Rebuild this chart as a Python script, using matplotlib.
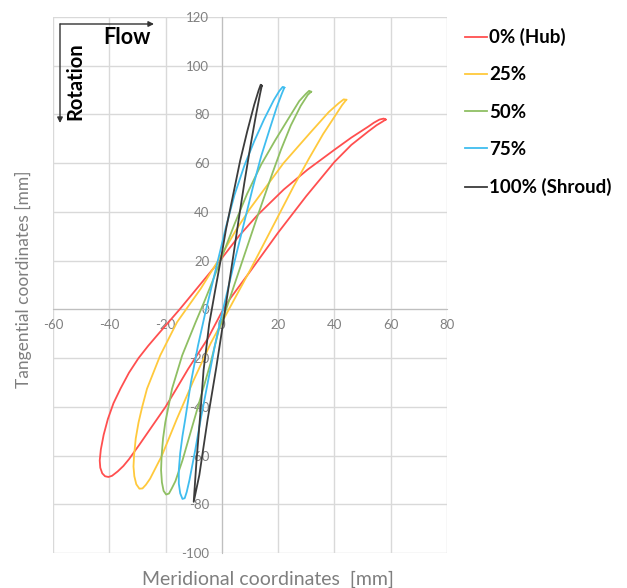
import matplotlib
matplotlib.use("Agg")
import matplotlib.pyplot as plt

# blade profiles at 5 span positions
# each list goes tip -> upper side -> leading edge -> lower side -> tip
hub_x = [58.2, 57.5, 56, 54, 52, 46, 40, 30.4, 22, 12.5, 6, 0, -7.5, -15, -22.5, -26.2, -29.6, -33, -36, -38.5, -40.5,
         -42, -43, -43.4, -43.2, -42.5, -41.5, -40.3, -39, -37, -35, -33, -29.4, -24.5, -20, -16, -12, -5, 0, 3, 10,
         20, 30, 40, 46, 52, 55, 57, 58.2]
hub_y = [77.9, 78.3, 77.9, 76.6, 75, 70.5, 65.5, 57.3, 49.2, 38.5, 30, 21, 10.5, 0, -10, -15, -20, -26, -32.5, -38.5,
         -45, -51.5, -57.5, -62, -65, -67.3, -68.5, -68.8, -68.3, -66.5, -64.3, -61.5, -55.7, -47.5, -40, -32.3,
         -24.5, -12, -1, 4.5, 15.5, 31.5, 46.5, 60.5, 67.5, 73, 75.6, 77, 77.9]

s25_x = [44.2, 43.3, 41.5, 38, 31.4, 21.9, 10.1, 5, 0, -7.5, -15.9, -21.9, -26.6, -28.3, -29.6, -30.6, -31.2, -31.4,
         -31.1, -30.4, -29.3, -28.2, -27, -25.5, -21.3, -16, -10, -4, 2.5, 10, 19, 25.5, 31, 36, 40, 42.7, 44.2]
s25_y = [86.0, 86.2, 84.6, 81, 72.5, 60, 41.5, 32.5, 22.5, 8.5, -5.2, -18.9, -32.6, -40, -46.4, -53, -60, -64.5,
         -68.5, -71.8, -73.6, -73.5, -72, -69.5, -60, -45, -29, -14, 0, 16, 36, 50.5, 62, 72, 79, 83.8, 86.0]

s50_x = [31.7, 31, 29.8, 27.5, 23.5, 19, 14, 9, 4.5, 0, -3.5, -6.3, -9.3, -14.1, -17.7, -20.1, -20.9, -21.4, -21.6,
         -21.3, -20.7, -19.8, -18.8, -17.8, -16.5, -14, -11, -7.5, -4, -1, 1.5, 5, 8.5, 12, 15, 18, 21, 24.5, 28,
         30.5, 31.7]
s50_y = [89.3, 89.7, 88.4, 85.5, 78, 69.5, 59.5, 47.5, 35, 21.5, 11, 3, -5.2, -18.9, -32.6, -46.4, -53, -60, -66,
         -71, -74.5, -76, -75.6, -73.5, -70.5, -62, -50, -36, -22, -8, 0, 12, 24, 36, 46, 56, 65.5, 75.5, 83.5,
         88, 89.3]

s75_x = [22.2, 21.6, 20.4, 18.5, 15, 11.5, 8, 4.5, 1.5, -1, -3.5, -6, -8.5, -11, -13, -14, -14.8, -15.3, -15.3,
         -14.8, -14, -13.2, -12.5, -11.5, -9.5, -7.5, -5, -2.5, 0, 2.5, 5, 8, 11, 14, 17, 19.5, 21.3, 22.2]
s75_y = [91, 91.3, 89.6, 86, 78, 69, 59, 47, 34, 22, 10, -2, -15, -30, -45, -52, -59, -66, -71.5,
         -75.5, -77.8, -77.5, -75, -70, -58, -45, -30, -15, -2, 10, 22, 36, 50, 63, 74, 83, 88.5, 91]

shroud_x = [14.2, 13.8, 13.1, 11.5, 9, 6.5, 4, 1.5, -0.3, -2.5, -4.5, -6.5, -7.8, -9, -10,
            -8, -5.1, -2, 0.6, 2.5, 4.2, 6, 8, 10, 12, 13.5, 14.2]
shroud_y = [91.8, 92.2, 90, 84, 73, 61, 47, 33, 21, 7, -6, -25, -45, -62, -79,
            -68, -45.5, -24, -4.5, 10, 23, 37, 52, 66, 79, 88, 91.8]

labels = ["0% (Hub)", "25%", "50%", "75%", "100% (Shroud)"]
colors = ["#ff4f4f", "#ffc93c", "#8fbf63", "#3fbdef", "#3c3c3c"]

plt.rcParams['font.family'] = ['Lato', 'DejaVu Sans']
plt.rcParams['axes.unicode_minus'] = False

W, H = 627, 588
fig = plt.figure(figsize=(W/100, H/100), dpi=100)
ax = fig.add_axes([53/W, 1-553/H, (447-53)/W, (553-17)/H])

series = [(hub_x, hub_y), (s25_x, s25_y), (s50_x, s50_y), (s75_x, s75_y), (shroud_x, shroud_y)]
for (xs, ys), lab, c in zip(series, labels, colors):
    ax.plot(xs, ys, color=c, lw=1.3, label=lab, zorder=3, solid_joinstyle='round')

ax.set_xlim(-60, 80)
ax.set_ylim(-100, 120)
ax.set_xticks(range(-60, 81, 20))
ax.set_yticks(range(-100, 121, 20))
ax.grid(True, color='#d9d9d9', lw=1)
ax.set_axisbelow(True)
for s in ['top', 'right']:
    ax.spines[s].set_visible(False)
ax.spines['left'].set_position(('data', 0))
ax.spines['bottom'].set_position(('data', 0))
for s in ['left', 'bottom']:
    ax.spines[s].set_color('#bfbfbf')
    ax.spines[s].set_zorder(1)
ax.tick_params(axis='both', length=0, labelsize=9.5, labelcolor='#808080')
ax.tick_params(axis='x', pad=7)
ax.tick_params(axis='y', pad=9)

# axis titles
fig.text(268/W, 1-579/H, 'Meridional coordinates  [mm]', ha='center', va='center',
         fontsize=14, color='#7f7f7f')
fig.text(23/W, 1-279/H, 'Tangential coordinates [mm]', ha='center', va='center',
         fontsize=12.5, color='#7f7f7f', rotation=90)

# flow / rotation arrows
ax.annotate('', xy=(154/W, 1-24/H), xytext=(60/W, 1-24/H), xycoords='figure fraction',
            arrowprops=dict(arrowstyle='-|>', color='#333333', lw=1, mutation_scale=8, shrinkA=0, shrinkB=0))
ax.annotate('', xy=(60/W, 1-123/H), xytext=(60/W, 1-24/H), xycoords='figure fraction',
            arrowprops=dict(arrowstyle='-|>', color='#333333', lw=1, mutation_scale=8, shrinkA=0, shrinkB=0))
fig.text(127/W, 1-37/H, 'Flow', ha='center', va='center', fontsize=15.5, fontweight='bold')
fig.text(75/W, 1-81/H, 'Rotation', ha='center', va='center', fontsize=14.5, fontweight='bold', rotation=90)

fig.legend(loc='upper left', bbox_to_anchor=(465/W, 1-28/H), frameon=False, borderpad=0,
           borderaxespad=0, handlelength=1.17, handletextpad=0.1, labelspacing=1.08,
           prop={'weight': 'bold', 'size': 13.5})

fig.savefig('out.png', dpi=100)
